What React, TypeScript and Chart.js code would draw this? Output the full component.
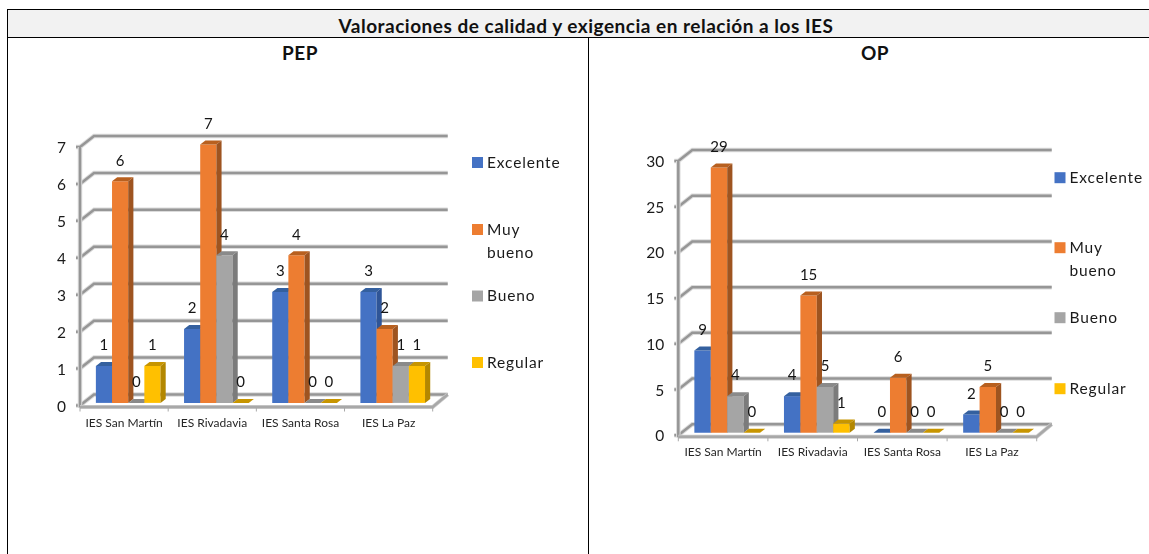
import React, { useEffect, useRef } from "react";
import { Chart, registerables } from "chart.js";

Chart.register(...registerables);

const categories = ["IES San Martín", "IES Rivadavia", "IES Santa Rosa", "IES La Paz"];
const seriesNames = ["Excelente", "Muy bueno", "Bueno", "Regular"];
const pepExcelente = [1, 2, 3, 3];
const pepMuyBueno = [6, 7, 4, 2];
const pepBueno = [0, 4, 0, 1];
const pepRegular = [1, 0, 0, 1];
const opExcelente = [9, 4, 0, 2];
const opMuyBueno = [29, 15, 6, 5];
const opBueno = [4, 5, 0, 0];
const opRegular = [0, 1, 0, 0];

const FRONT = ["#4472c4", "#ed7d31", "#a5a5a5", "#ffc000"];
const SIDE = ["#2f5597", "#9e5420", "#7b7b7b", "#b38700"];
const TOP = ["#34609f", "#b8601f", "#8a8a8a", "#c79500"];
const FONT = "Lato, Carlito, Calibri, sans-serif";

const depth3d = {
  id: "depth3d",
  beforeDatasetsDraw(chart: any, _a: any, o: any) {
    const { ctx, chartArea: c, scales } = chart;
    const y = scales.y;
    const { dx, dy } = o;
    ctx.save();
    ctx.lineCap = "butt";
    const line = (pts: number[][], color = "#a0a0a0", w = 2) => {
      ctx.beginPath();
      pts.forEach((p, i) => (i ? ctx.lineTo(p[0], p[1]) : ctx.moveTo(p[0], p[1])));
      ctx.strokeStyle = color;
      ctx.lineWidth = w;
      ctx.stroke();
    };
    const shadowed = (pts: number[][]) => {
      line(pts, "#dcdcdc", 4.5);
      line(pts, "#969696", 2.5);
    };
    const bottom = y.getPixelForValue(0);
    y.ticks.forEach((t: any) => {
      const p = y.getPixelForValue(t.value);
      shadowed([[c.left - 4, p], [c.left, p], [c.left + dx, p + dy], [c.right + dx + 1, p + dy]]);
    });
    shadowed([[c.left, y.getPixelForValue(y.max)], [c.left, bottom + 2]]);
    const floor = [[c.left, bottom + 1.5], [c.right, bottom + 1.5], [c.right + dx + 1, bottom + dy]];
    line(floor, "#cccccc", 4);
    line(floor, "#a8a8a8", 2.5);
    const n = chart.data.labels.length;
    for (let i = 0; i <= n; i++) {
      const x = c.left + ((c.right - c.left) * i) / n;
      line([[x, bottom + 2], [x, bottom + 6]], "#a8a8a8", 1);
    }
    ctx.restore();
  },
  // The library's own back-to-front order would paint the first series on top;
  // depth needs left-to-right, so its elements are drawn below instead.
  beforeDatasetDraw() {
    return false;
  },
  afterDatasetsDraw(chart: any, _a: any, o: any) {
    const { ctx } = chart;
    const sx = 5.2;
    const sy = -4;
    ctx.save();
    ctx.translate(o.barDx, o.barDy);
    chart.data.datasets.forEach((_ds: any, i: number) => {
      chart.getDatasetMeta(i).data.forEach((b: any) => {
        b.draw(ctx);
        const l = b.x - b.width / 2;
        const r = b.x + b.width / 2;
        ctx.fillStyle = TOP[i];
        ctx.beginPath();
        ctx.moveTo(l, b.y);
        ctx.lineTo(r, b.y);
        ctx.lineTo(r + sx, b.y + sy);
        ctx.lineTo(l + sx, b.y + sy);
        ctx.closePath();
        ctx.fill();
        if (b.base - b.y > 0.5) {
          ctx.fillStyle = SIDE[i];
          ctx.beginPath();
          ctx.moveTo(r, b.y);
          ctx.lineTo(r + sx, b.y + sy);
          ctx.lineTo(r + sx, b.base + sy);
          ctx.lineTo(r, b.base);
          ctx.closePath();
          ctx.fill();
        }
      });
    });
    ctx.font = `15px ${FONT}`;
    ctx.fillStyle = "#151515";
    ctx.textAlign = "center";
    ctx.textBaseline = "middle";
    chart.data.datasets.forEach((ds: any, i: number) => {
      chart.getDatasetMeta(i).data.forEach((b: any, j: number) => {
        ctx.fillText(String(ds.data[j]), b.x, b.y - 20.5);
      });
    });
    ctx.restore();
    ctx.save();
    ctx.font = `15.5px ${FONT}`;
    (ctx as any).letterSpacing = "0.85px";
    ctx.textBaseline = "middle";
    ctx.textAlign = "left";
    seriesNames.forEach((name, i) => {
      const cy = o.legendY[i];
      ctx.fillStyle = FRONT[i];
      ctx.fillRect(o.legendX, cy - 5.5, 11, 11);
      ctx.fillStyle = "#1a1a1a";
      const words = name === "Muy bueno" ? name.split(" ") : [name];
      words.forEach((w, k) => ctx.fillText(w, o.legendX + 15, cy + k * 23));
    });
    ctx.restore();
  },
};

function make3D(canvas: HTMLCanvasElement, series: number[][], cfg: any) {
  return new Chart(canvas, {
    type: "bar",
    plugins: [depth3d as any],
    data: {
      labels: categories,
      datasets: series.map((data, i) => ({
        label: seriesNames[i],
        data,
        backgroundColor: FRONT[i],
      })),
    },
    options: {
      animation: false,
      responsive: false,
      devicePixelRatio: 1,
      layout: { padding: { left: 0, top: cfg.top, right: cfg.w - cfg.right, bottom: cfg.h - cfg.bottom - 30 } },
      datasets: { bar: { categoryPercentage: 0.733, barPercentage: 1 } },
      plugins: {
        legend: { display: false },
        title: { display: false },
        tooltip: { enabled: false },
        depth3d: {
          dx: 14,
          dy: -11,
          barDx: 4.1,
          barDy: -2.6,
          legendX: cfg.legendX,
          legendY: cfg.legendY,
        },
      } as any,
      scales: {
        x: {
          afterFit: (s: any) => { s.height = 30; },
          grid: { display: false, drawTicks: false },
          border: { display: false },
          ticks: { padding: 10, maxRotation: 0, autoSkip: false, color: "#262626", font: { family: FONT, size: 12 } },
        },
        y: {
          min: 0,
          max: cfg.max,
          afterFit: (s: any) => { s.width = cfg.left; },
          grid: { display: false, drawTicks: false },
          border: { display: false },
          ticks: { stepSize: cfg.step, padding: 14, labelOffset: 1, color: "#1a1a1a", font: { family: FONT, size: 15.5 } },
        },
      },
    },
  });
}

const PEP_BOX = { x: 10, y: 40, w: 576, h: 514 };
const OP_BOX = { x: 590, y: 40, w: 559, h: 514 };

export default function App() {
  const a = useRef<HTMLCanvasElement>(null);
  const b = useRef<HTMLCanvasElement>(null);
  useEffect(() => {
    const c1 = make3D(a.current!, [pepExcelente, pepMuyBueno, pepBueno, pepRegular], {
      ...PEP_BOX, left: 70, right: 422.7, top: 107, bottom: 365.5, max: 7, step: 1,
      legendX: 462, legendY: [122.5, 189.5, 256, 322.5],
    });
    const c2 = make3D(b.current!, [opExcelente, opMuyBueno, opBueno, opRegular], {
      ...OP_BOX, left: 88.3, right: 446.7, top: 121, bottom: 395.3, max: 30, step: 5,
      legendX: 464.5, legendY: [137.7, 207.7, 277.7, 348.7],
    });
    return () => { c1.destroy(); c2.destroy(); };
  }, []);
  const hd: React.CSSProperties = {
    position: "absolute", fontFamily: FONT, fontWeight: 700, fontSize: 19, letterSpacing: 0.5, color: "#111",
    textAlign: "center", whiteSpace: "nowrap", lineHeight: "20px",
  };
  return (
    <div style={{ position: "absolute", left: 0, top: 0, width: 1149, height: 554, overflow: "hidden", background: "#fff" }}>
      <div style={{ position: "absolute", left: 8, top: 9, right: 0, height: 28, background: "#f2f2f2" }} />
      <div style={{ position: "absolute", left: 7, top: 9, right: 0, height: 1, background: "#000" }} />
      <div style={{ position: "absolute", left: 7, top: 37, right: 0, height: 1, background: "#000" }} />
      <div style={{ position: "absolute", left: 7, top: 9, width: 1, bottom: 0, background: "#000" }} />
      <div style={{ position: "absolute", left: 588, top: 37, width: 1, bottom: 0, background: "#000" }} />
      <div style={{ ...hd, left: 8, width: 1156, top: 16 }}>Valoraciones de calidad y exigencia en relación a los IES</div>
      <div style={{ ...hd, left: 8, width: 584, top: 43 }}>PEP</div>
      <div style={{ ...hd, left: 589, width: 572, top: 43 }}>OP</div>
      <canvas ref={a} width={PEP_BOX.w} height={PEP_BOX.h} style={{ position: "absolute", left: PEP_BOX.x, top: PEP_BOX.y }} />
      <canvas ref={b} width={OP_BOX.w} height={OP_BOX.h} style={{ position: "absolute", left: OP_BOX.x, top: OP_BOX.y }} />
    </div>
  );
}
